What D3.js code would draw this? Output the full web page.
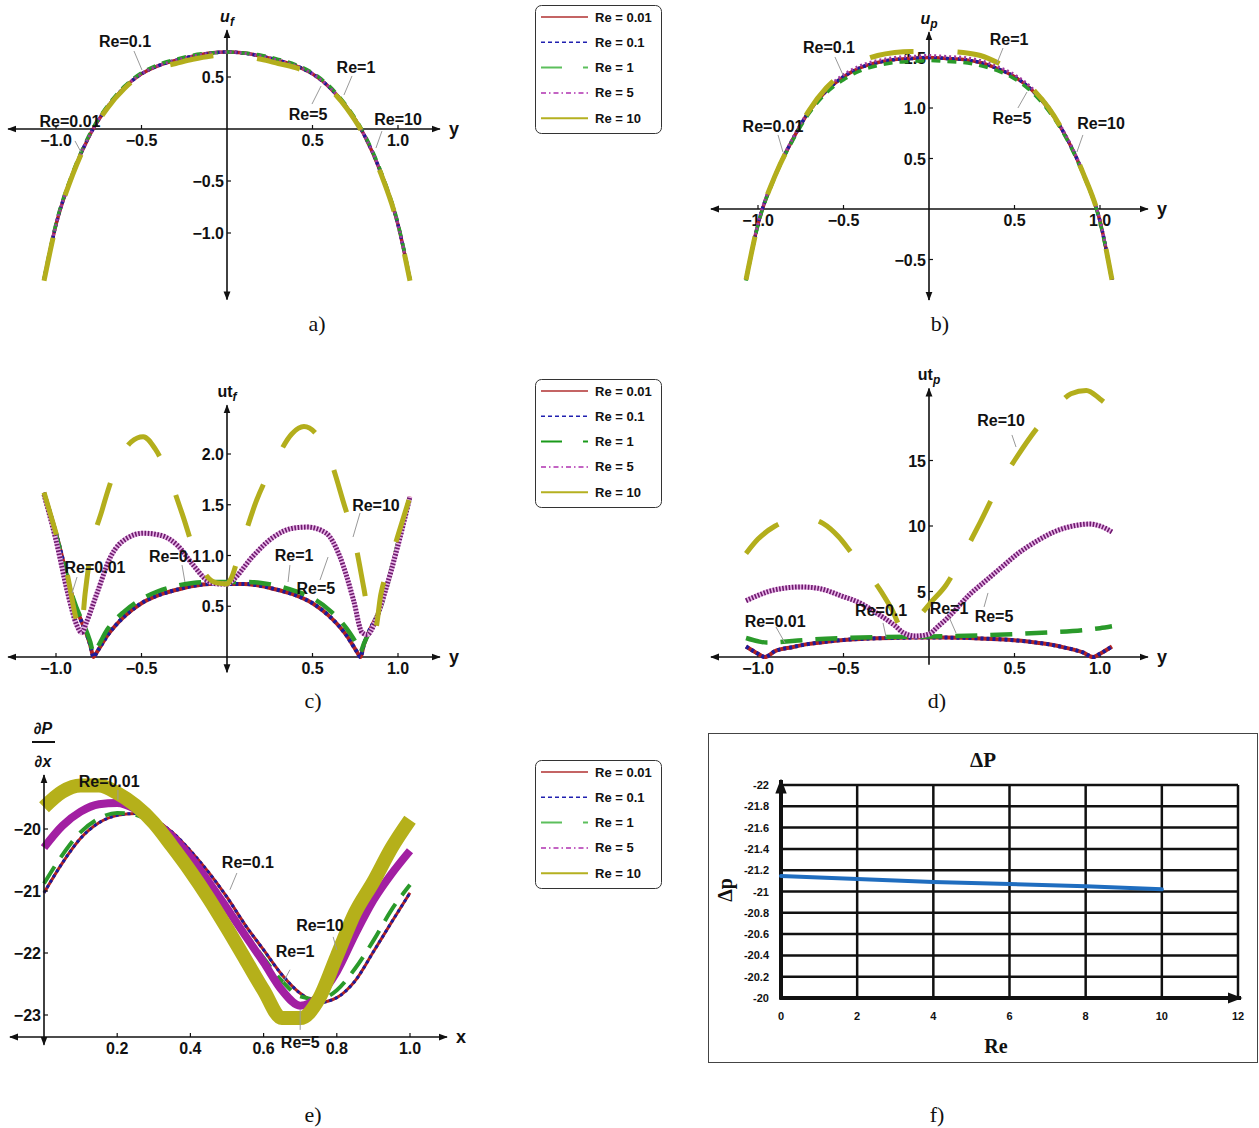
<!DOCTYPE html>
<html><head><meta charset="utf-8">
<script src="https://cdn.jsdelivr.net/npm/d3@7/dist/d3.min.js"></script>
<style>html,body{margin:0;padding:0;background:#fff;} svg{display:block;}</style>
</head><body>
<svg id="fig" width="1259" height="1128"></svg>
<script>
// ================= DATA =================
const seriesLabels = ["Re = 0.01","Re = 0.1","Re = 1","Re = 5","Re = 10"];

// panel a, b : common y grid
const yAB = [-1.07,-1.0,-0.9,-0.8,-0.7,-0.6,-0.5,-0.4,-0.3,-0.2,-0.1,0,0.1,0.2,0.3,0.4,0.5,0.6,0.7,0.8,0.9,1.0,1.07];
const uf_Re001 = [-1.45,-0.92,-0.42,-0.05,0.21,0.40,0.53,0.61,0.66,0.70,0.73,0.74,0.73,0.70,0.66,0.61,0.53,0.40,0.21,-0.05,-0.42,-0.92,-1.45];
const uf_Re01  = [-1.45,-0.92,-0.42,-0.05,0.21,0.40,0.53,0.61,0.66,0.70,0.73,0.74,0.73,0.70,0.66,0.61,0.53,0.40,0.21,-0.05,-0.42,-0.92,-1.45];
const uf_Re1   = [-1.44,-0.91,-0.41,-0.04,0.22,0.41,0.54,0.62,0.67,0.71,0.73,0.74,0.73,0.71,0.67,0.62,0.54,0.41,0.22,-0.04,-0.41,-0.91,-1.44];
const uf_Re5   = [-1.45,-0.92,-0.42,-0.05,0.21,0.40,0.53,0.61,0.66,0.70,0.73,0.74,0.73,0.70,0.66,0.61,0.53,0.40,0.21,-0.05,-0.42,-0.92,-1.45];
const uf_Re10  = [-1.46,-0.93,-0.43,-0.06,0.20,0.39,0.52,0.59,0.63,0.67,0.70,0.71,0.70,0.67,0.63,0.59,0.52,0.39,0.20,-0.06,-0.43,-0.93,-1.46];

const up_Re001 = [-0.70,-0.15,0.33,0.68,0.97,1.17,1.31,1.40,1.45,1.48,1.49,1.50,1.49,1.48,1.45,1.39,1.31,1.18,0.99,0.72,0.36,-0.12,-0.70];
const up_Re01  = [-0.70,-0.15,0.33,0.68,0.97,1.17,1.31,1.40,1.45,1.48,1.49,1.50,1.49,1.48,1.45,1.39,1.31,1.18,0.99,0.72,0.36,-0.12,-0.70];
const up_Re1   = [-0.71,-0.16,0.32,0.67,0.95,1.15,1.28,1.37,1.42,1.45,1.46,1.47,1.46,1.45,1.42,1.37,1.29,1.16,0.97,0.71,0.35,-0.13,-0.71];
const up_Re5   = [-0.69,-0.14,0.34,0.69,0.98,1.19,1.33,1.42,1.47,1.50,1.51,1.52,1.51,1.50,1.47,1.41,1.33,1.20,1.01,0.73,0.37,-0.11,-0.69];
const up_Re10  = [-0.70,-0.15,0.33,0.68,0.98,1.20,1.35,1.46,1.52,1.55,1.56,1.56,1.56,1.55,1.52,1.45,1.35,1.20,1.00,0.72,0.36,-0.12,-0.70];

// panel c
const yC = [-1.07,-1.0,-0.9,-0.8,-0.78,-0.76,-0.7,-0.6,-0.5,-0.4,-0.3,-0.2,-0.1,0,0.1,0.2,0.3,0.4,0.5,0.6,0.7,0.76,0.78,0.8,0.9,1.0,1.07];
const utf_Re001 = [1.62,1.22,0.57,0.12,0,0.05,0.21,0.40,0.53,0.61,0.66,0.70,0.72,0.72,0.72,0.70,0.66,0.61,0.53,0.40,0.21,0.05,0,0.12,0.50,1.12,1.58];
const utf_Re01  = [1.62,1.22,0.57,0.12,0,0.05,0.21,0.40,0.53,0.61,0.66,0.70,0.72,0.72,0.72,0.70,0.66,0.61,0.53,0.40,0.21,0.05,0,0.12,0.50,1.12,1.58];
const utf_Re1   = [1.60,1.20,0.58,0.15,0.04,0.09,0.27,0.45,0.57,0.65,0.70,0.73,0.74,0.74,0.74,0.73,0.70,0.65,0.58,0.46,0.28,0.12,0.05,0.13,0.50,1.12,1.58];
const yC5 = [-1.07,-1.0,-0.93,-0.88,-0.85,-0.82,-0.76,-0.68,-0.585,-0.49,-0.39,-0.29,-0.2,-0.12,-0.05,0,0.035,0.15,0.27,0.39,0.47,0.58,0.66,0.74,0.79,0.82,0.86,0.92,1.0,1.07];
const utf_Re5   = [1.60,1.15,0.62,0.32,0.24,0.35,0.63,0.99,1.17,1.22,1.20,1.10,0.91,0.76,0.72,0.72,0.76,0.99,1.18,1.27,1.28,1.22,0.99,0.56,0.24,0.22,0.32,0.62,1.10,1.58];
const yC10 = [-1.07,-1.0,-0.94,-0.88,-0.855,-0.83,-0.8,-0.73,-0.65,-0.56,-0.49,-0.42,-0.35,-0.26,-0.18,-0.12,-0.06,0,0.02,0.08,0.17,0.28,0.38,0.45,0.52,0.60,0.68,0.75,0.80,0.84,0.865,0.9,0.95,1.0,1.07];
const utf_Re10  = [1.62,1.22,0.86,0.36,0.22,0.62,1.00,1.45,1.86,2.12,2.17,2.05,1.82,1.40,0.99,0.80,0.73,0.72,0.76,1.07,1.53,1.92,2.20,2.27,2.20,1.96,1.53,1.12,0.68,0.32,0.26,0.62,0.92,1.20,1.58];

// panel d
const yD = [-1.07,-1.0,-0.96,-0.9,-0.8,-0.7,-0.6,-0.5,-0.4,-0.3,-0.2,-0.1,0,0.1,0.2,0.3,0.4,0.5,0.6,0.7,0.8,0.9,0.96,1.0,1.07];
const utp_Re001 = [0.80,0.25,0,0.45,0.75,1.0,1.17,1.30,1.38,1.43,1.46,1.48,1.48,1.48,1.46,1.42,1.36,1.28,1.15,0.97,0.70,0.35,0,0.25,0.80];
const utp_Re01  = [0.80,0.25,0,0.45,0.75,1.0,1.17,1.30,1.38,1.43,1.46,1.48,1.48,1.48,1.46,1.42,1.36,1.28,1.15,0.97,0.70,0.35,0,0.25,0.80];
const yD1 = [-1.07,-1.0,-0.95,-0.9,-0.8,-0.7,-0.5,-0.3,-0.1,0,0.1,0.3,0.5,0.7,0.9,1.0,1.07];
const utp_Re1   = [1.45,1.2,1.1,1.12,1.22,1.32,1.45,1.52,1.55,1.56,1.58,1.65,1.75,1.88,2.05,2.2,2.35];
const yD5 = [-1.07,-1.0,-0.94,-0.85,-0.75,-0.65,-0.51,-0.4,-0.3,-0.2,-0.15,-0.08,0,0.05,0.11,0.24,0.33,0.42,0.52,0.63,0.74,0.84,0.94,1.0,1.07];
const utp_Re5   = [4.3,4.7,5.0,5.25,5.35,5.25,4.65,4.1,3.3,2.4,1.85,1.6,1.75,2.3,3.0,4.8,5.8,6.8,7.9,8.85,9.6,10.0,10.15,10.0,9.55];
const yD10 = [-1.07,-1.0,-0.9,-0.8,-0.72,-0.62,-0.53,-0.45,-0.37,-0.29,-0.22,-0.14,-0.07,0.01,0.1,0.2,0.3,0.4,0.5,0.64,0.75,0.83,0.92,1.0,1.05];
const utp_Re10  = [7.9,9.0,10.0,10.5,10.6,10.2,9.2,7.9,6.6,5.2,3.7,1.8,2.9,4.15,5.5,7.8,10.3,12.9,15.0,17.6,19.2,20.1,20.35,19.7,19.16];

// panel e
const xE = [0,0.05,0.1,0.15,0.2,0.25,0.3,0.35,0.4,0.45,0.5,0.55,0.6,0.65,0.7,0.75,0.8,0.85,0.9,0.95,1.0];
const dpdx_Re001 = [-21.03,-20.55,-20.15,-19.9,-19.78,-19.75,-19.85,-20.05,-20.35,-20.7,-21.1,-21.55,-21.95,-22.35,-22.65,-22.8,-22.72,-22.45,-21.98,-21.5,-21.03];
const dpdx_Re01  = [-21.03,-20.55,-20.15,-19.9,-19.78,-19.75,-19.85,-20.05,-20.35,-20.7,-21.1,-21.55,-21.95,-22.35,-22.65,-22.8,-22.72,-22.45,-21.98,-21.5,-21.03];
const dpdx_Re1   = [-20.88,-20.42,-20.05,-19.83,-19.74,-19.77,-19.92,-20.15,-20.48,-20.85,-21.25,-21.68,-22.08,-22.45,-22.7,-22.75,-22.6,-22.25,-21.8,-21.3,-20.9];
const dpdx_Re5   = [-20.3,-19.95,-19.72,-19.6,-19.58,-19.68,-19.88,-20.12,-20.45,-20.85,-21.28,-21.72,-22.15,-22.6,-22.85,-22.7,-22.3,-21.7,-21.15,-20.72,-20.35];
const dpdx_Re10  = [-19.65,-19.4,-19.3,-19.3,-19.42,-19.62,-19.9,-20.28,-20.68,-21.12,-21.6,-22.1,-22.6,-23.05,-23.05,-22.75,-22.05,-21.35,-20.85,-20.3,-19.85];

// panel f
const reF = [0,2,4,6,8,10];
const deltaP = [-21.146,-21.118,-21.09,-21.07,-21.05,-21.02];
const fXTicks = [0,2,4,6,8,10,12];
const fYTicks = [-20,-20.2,-20.4,-20.6,-20.8,-21,-21.2,-21.4,-21.6,-21.8,-22];

// tick values
const yTicksSym = [-1,-0.5,0.5,1];

// ================= DRAWING =================
const SANS = "'Liberation Sans', Arial, sans-serif";
const SERIF = "'Liberation Serif', 'Times New Roman', serif";
const svg = d3.select("#fig");
const defs = svg.append("defs");
function mkArrow(id, size){
  defs.append("marker").attr("id",id).attr("viewBox","0 0 10 10").attr("refX",9).attr("refY",5)
    .attr("markerWidth",size).attr("markerHeight",size).attr("markerUnits","userSpaceOnUse")
    .attr("orient","auto-start-reverse")
    .append("path").attr("d","M0,1.2 L10,5 L0,8.8 z").attr("fill","#111");
}
mkArrow("arr",9); mkArrow("arrF",15);

const fmt1 = t => (t<0?"\u2212":"") + Math.abs(t).toFixed(1);
const fmt0 = t => (t<0?"\u2212":"") + Math.abs(t).toFixed(0);

function mathAxes(g, xs, ys, o){
  const x0 = xs(o.vx), y0 = ys(o.hy);
  g.append("line").attr("x1",xs(o.hx[0])).attr("x2",xs(o.hx[1])).attr("y1",y0).attr("y2",y0)
    .attr("stroke","#111").attr("stroke-width",1.6)
    .attr("marker-start","url(#arr)").attr("marker-end","url(#arr)");
  g.append("line").attr("x1",x0).attr("x2",x0).attr("y1",ys(o.vy[0])).attr("y2",ys(o.vy[1]))
    .attr("stroke","#111").attr("stroke-width",1.6)
    .attr("marker-start", o.noBottomArrow ? null : "url(#arr)").attr("marker-end","url(#arr)");
  o.xTicks.forEach(t=>{
    g.append("line").attr("x1",xs(t)).attr("x2",xs(t)).attr("y1",y0).attr("y2",y0-4).attr("stroke","#111").attr("stroke-width",1.2);
    g.append("text").attr("x",xs(t)).attr("y",y0+17).attr("text-anchor","middle")
      .attr("font-family",SANS).attr("font-weight","bold").attr("font-size",16).attr("fill","#111").text(o.xfmt(t));
  });
  o.yTicks.forEach(t=>{
    g.append("line").attr("x1",x0).attr("x2",x0+4).attr("y1",ys(t)).attr("y2",ys(t)).attr("stroke","#111").attr("stroke-width",1.2);
    g.append("text").attr("x",x0-3).attr("y",ys(t)+6).attr("text-anchor","end")
      .attr("font-family",SANS).attr("font-weight","bold").attr("font-size",16).attr("fill","#111").text(o.yfmt(t));
  });
  g.append("text").attr("x",xs(o.hx[1])+9).attr("y",y0+6).attr("font-family",SANS).attr("font-weight","bold")
    .attr("font-size",18).attr("fill","#111").text(o.xName);
  if (o.yMain){
    const t = g.append("text").attr("x",x0).attr("y",ys(o.vy[1])-8).attr("text-anchor","middle")
      .attr("font-family",SANS).attr("font-weight","bold").attr("font-size",16).attr("fill","#111");
    t.append("tspan").attr("font-style",o.yItalic?"italic":"normal").text(o.yMain);
    t.append("tspan").attr("font-style","italic").attr("font-size",12).attr("dy",4).text(o.ySub);
  }
}

function drawSeries(g, xs, ys, xArr, vArr, layers){
  const pts = xArr.map((x,i)=>[x, vArr[i]]);
  const line = d3.line().x(d=>xs(d[0])).y(d=>ys(d[1])).curve(d3.curveMonotoneX);
  layers.forEach(L=>{
    g.append("path").attr("d",line(pts)).attr("fill","none").attr("stroke",L.c)
      .attr("stroke-width",L.w).attr("stroke-dasharray",L.d||null)
      .attr("stroke-linejoin","round");
  });
}

function labels(g, xs, ys, list){
  list.forEach(l=>{
    if (l.lead) g.append("line").attr("x1",xs(l.lead[0])).attr("y1",ys(l.lead[1]))
      .attr("x2",xs(l.lead[2])).attr("y2",ys(l.lead[3])).attr("stroke","#999").attr("stroke-width",1);
    g.append("text").attr("x",xs(l.p[0])).attr("y",ys(l.p[1])+6).attr("text-anchor","middle")
      .attr("font-family",SANS).attr("font-weight","bold").attr("font-size",16).attr("fill","#111").text(l.t);
  });
}

const stAB = [
  [{c:"#b22222",w:3.5}],
  [{c:"#1c1c9c",w:3.5,d:"3,3"}],
  [{c:"#2a9a2a",w:3.5,d:"9,7"}],
  [{c:"#a03aa0",w:3,d:"2,3"}],
  [{c:"#b3ae1c",w:5,d:"44,44"}]
];
const stCD = [
  [{c:"#b22222",w:4}],
  [{c:"#1c1c9c",w:4,d:"3,3"}],
  [{c:"#2a9a2a",w:4.5,d:"22,13"}],
  [{c:"#e8b4e8",w:5},{c:"#6e1a6e",w:5,d:"1.6,1.6"}],
  [{c:"#b3ae1c",w:5,d:"44,42"}]
];
const stE = [
  [{c:"#b22222",w:3}],
  [{c:"#1c1c9c",w:3,d:"3,3"}],
  [{c:"#2a9a2a",w:4,d:"20,11"}],
  [{c:"#a21fa2",w:8}],
  [{c:"#b5b01a",w:14}]
];

// ---------- panel a ----------
{
  const g = svg.append("g");
  const xs = d3.scaleLinear().domain([-1,1]).range([56,398]);
  const ys = d3.scaleLinear().domain([0,1]).range([129,25]);
  mathAxes(g, xs, ys, {vx:0,hy:0,hx:[-1.28,1.245],vy:[-1.64,0.95],xTicks:yTicksSym,yTicks:[0.5,-0.5,-1],
    xfmt:fmt1,yfmt:fmt1,xName:"y",yMain:"u",ySub:"f",yItalic:true});
  [uf_Re001,uf_Re01,uf_Re1,uf_Re5,uf_Re10].forEach((v,i)=>drawSeries(g,xs,ys,yAB,v,stAB[i]));
  labels(g, xs, ys, [
    {t:"Re=0.1",p:[-0.596,0.846],lead:[-0.544,0.75,-0.497,0.567]},
    {t:"Re=1",p:[0.754,0.596],lead:[0.731,0.51,0.684,0.327]},
    {t:"Re=5",p:[0.474,0.144],lead:[0.497,0.24,0.55,0.413]},
    {t:"Re=10",p:[1.0,0.096],lead:[0.906,-0.02,0.871,-0.183]},
    {t:"Re=0.01",p:[-0.918,0.077],lead:[-0.889,-0.115,-0.854,-0.221]}
  ]);
}
// ---------- panel b ----------
{
  const g = svg.append("g");
  const xs = d3.scaleLinear().domain([-1,1]).range([758,1100]);
  const ys = d3.scaleLinear().domain([0,1]).range([209,108]);
  mathAxes(g, xs, ys, {vx:0,hy:0,hx:[-1.275,1.28],vy:[-0.90,1.75],xTicks:yTicksSym,yTicks:[0.5,1,1.5,-0.5],
    xfmt:fmt1,yfmt:fmt1,xName:"y",yMain:"u",ySub:"p",yItalic:true});
  [up_Re001,up_Re01,up_Re1,up_Re5,up_Re10].forEach((v,i)=>drawSeries(g,xs,ys,yAB,v,stAB[i]));
  labels(g, xs, ys, [
    {t:"Re=0.1",p:[-0.585,1.604],lead:[-0.55,1.505,-0.503,1.327]},
    {t:"Re=1",p:[0.468,1.683],lead:[0.433,1.594,0.398,1.446]},
    {t:"Re=0.01",p:[-0.912,0.822],lead:[-0.883,0.733,-0.854,0.564]},
    {t:"Re=5",p:[0.485,0.901],lead:[0.52,1.0,0.573,1.158]},
    {t:"Re=10",p:[1.006,0.851],lead:[0.9,0.733,0.865,0.564]}
  ]);
}
// ---------- panel c ----------
{
  const g = svg.append("g");
  const xs = d3.scaleLinear().domain([-1,1]).range([56,398]);
  const ys = d3.scaleLinear().domain([0,1]).range([657,555.5]);
  mathAxes(g, xs, ys, {vx:0,hy:0,hx:[-1.28,1.245],vy:[-0.15,2.48],xTicks:yTicksSym,yTicks:[0.5,1,1.5,2],
    xfmt:fmt1,yfmt:fmt1,xName:"y",yMain:"ut",ySub:"f",yItalic:false});
  drawSeries(g,xs,ys,yC,utf_Re001,stCD[0]);
  drawSeries(g,xs,ys,yC,utf_Re01,stCD[1]);
  drawSeries(g,xs,ys,yC,utf_Re1,stCD[2]);
  drawSeries(g,xs,ys,yC5,utf_Re5,stCD[3]);
  drawSeries(g,xs,ys,yC10,utf_Re10,stCD[4]);
  labels(g, xs, ys, [
    {t:"Re=0.01",p:[-0.772,0.887],lead:[-0.877,0.788,-0.906,0.63]},
    {t:"Re=0.1",p:[-0.304,0.995],lead:[-0.263,0.906,-0.246,0.739]},
    {t:"Re=1",p:[0.392,1.005],lead:[0.368,0.906,0.357,0.739]},
    {t:"Re=5",p:[0.52,0.68],lead:[0.544,0.759,0.591,0.985]},
    {t:"Re=10",p:[0.871,1.498],lead:[0.778,1.419,0.737,1.182]}
  ]);
}
// ---------- panel d ----------
{
  const g = svg.append("g");
  const xs = d3.scaleLinear().domain([-1,1]).range([758,1100]);
  const ys = d3.scaleLinear().domain([0,10]).range([657,526]);
  mathAxes(g, xs, ys, {vx:0,hy:0,hx:[-1.275,1.28],vy:[-0.6,20.5],xTicks:yTicksSym,yTicks:[5,10,15],
    xfmt:fmt1,yfmt:fmt0,xName:"y",yMain:"ut",ySub:"p",yItalic:false,noBottomArrow:true});
  drawSeries(g,xs,ys,yD,utp_Re001,stCD[0]);
  drawSeries(g,xs,ys,yD,utp_Re01,stCD[1]);
  drawSeries(g,xs,ys,yD1,utp_Re1,stCD[2]);
  drawSeries(g,xs,ys,yD5,utp_Re5,stCD[3]);
  drawSeries(g,xs,ys,yD10,utp_Re10,stCD[4]);
  labels(g, xs, ys, [
    {t:"Re=10",p:[0.421,18.09],lead:[0.485,16.95,0.509,16.03]},
    {t:"Re=0.01",p:[-0.9,2.75],lead:[-0.895,2.29,-0.842,1.07]},
    {t:"Re=0.1",p:[-0.28,3.59],lead:[-0.269,2.6,-0.251,1.53]},
    {t:"Re=1",p:[0.117,3.74],lead:[0.117,3.05,0.158,1.83]},
    {t:"Re=5",p:[0.38,3.13],lead:[0.322,3.82,0.345,4.89]}
  ]);
}
// ---------- panel e ----------
{
  const g = svg.append("g");
  const xs = d3.scaleLinear().domain([0,1]).range([44,410]);
  const ys = d3.scaleLinear().domain([-20,-23]).range([829,1015]);
  [dpdx_Re001,dpdx_Re01,dpdx_Re1,dpdx_Re5,dpdx_Re10].forEach((v,i)=>drawSeries(g,xs,ys,xE,v,stE[i]));
  labels(g, xs, ys, [
    {t:"Re=0.01",p:[0.178,-19.226],lead:[0.202,-19.37,0.202,-19.53]},
    {t:"Re=0.1",p:[0.557,-20.53],lead:[0.527,-20.71,0.508,-20.98]},
    {t:"Re=10",p:[0.754,-21.55],lead:[0.79,-21.74,0.80,-21.95]},
    {t:"Re=1",p:[0.686,-21.97],lead:[0.672,-22.27,0.653,-22.48]},
    {t:"Re=5",p:[0.70,-23.435],lead:[0.70,-23.24,0.70,-22.92]}
  ]);
  mathAxes(g, xs, ys, {vx:0,hy:-23.355,hx:[-0.093,1.101],vy:[-23.48,-19.13],xTicks:[0.2,0.4,0.6,0.8,1.0],yTicks:[-20,-21,-22,-23],
    xfmt:t=>t.toFixed(1),yfmt:fmt0,xName:"x",yMain:null});
  // dP/dx label
  const lt = (txt,y)=>g.append("text").attr("x",43).attr("y",y).attr("text-anchor","middle")
      .attr("font-family",SANS).attr("font-weight","bold").attr("font-style","italic").attr("font-size",16).attr("fill","#111").text(txt);
  lt("\u2202P",734);
  g.append("line").attr("x1",32).attr("x2",55).attr("y1",742).attr("y2",742).attr("stroke","#111").attr("stroke-width",2);
  lt("\u2202x",767);
}
// ---------- panel f ----------
{
  const g = svg.append("g");
  g.append("rect").attr("x",708.5).attr("y",733.5).attr("width",549).attr("height",329)
    .attr("fill","#fff").attr("stroke","#444").attr("stroke-width",1);
  const xs = d3.scaleLinear().domain([0,12]).range([781,1238]);
  const ys = d3.scaleLinear().domain([-20,-22]).range([998,785]);
  fXTicks.filter(t=>t>0).forEach(t=>g.append("line").attr("x1",xs(t)).attr("x2",xs(t)).attr("y1",ys(-20)).attr("y2",ys(-22))
    .attr("stroke","#111").attr("stroke-width",2.5));
  fYTicks.filter(t=>t!==-20).forEach(t=>g.append("line").attr("x1",xs(0)).attr("x2",xs(12)).attr("y1",ys(t)).attr("y2",ys(t))
    .attr("stroke","#111").attr("stroke-width",2.5));
  g.append("line").attr("x1",xs(0)).attr("x2",xs(0)).attr("y1",ys(-20)+1.5).attr("y2",ys(-22)-5)
    .attr("stroke","#111").attr("stroke-width",4).attr("marker-end","url(#arrF)");
  g.append("line").attr("x1",xs(0)-1.5).attr("x2",xs(12)+3).attr("y1",ys(-20)).attr("y2",ys(-20))
    .attr("stroke","#111").attr("stroke-width",4).attr("marker-end","url(#arrF)");
  fYTicks.forEach(t=>g.append("text").attr("x",769).attr("y",ys(t)+4).attr("text-anchor","end")
    .attr("font-family",SANS).attr("font-weight","bold").attr("font-size",11).attr("fill","#111")
    .text(String(t)));
  fXTicks.forEach(t=>g.append("text").attr("x",xs(t)).attr("y",1020).attr("text-anchor","middle")
    .attr("font-family",SANS).attr("font-weight","bold").attr("font-size",11).attr("fill","#111").text(String(t)));
  const pts = reF.map((r,i)=>[r,deltaP[i]]);
  g.append("path").attr("d",d3.line().x(d=>xs(d[0])).y(d=>ys(d[1]))(pts)).attr("fill","none")
    .attr("stroke","#1f6dbf").attr("stroke-width",4).attr("stroke-linecap","round");
  g.append("text").attr("x",983).attr("y",767).attr("text-anchor","middle").attr("font-family",SERIF)
    .attr("font-weight","bold").attr("font-size",21).attr("fill","#111").text("\u0394P");
  g.append("text").attr("x",996).attr("y",1053).attr("text-anchor","middle").attr("font-family",SERIF)
    .attr("font-weight","bold").attr("font-size",20).attr("fill","#111").text("Re");
  g.append("text").attr("transform","translate(732,890) rotate(-90)").attr("text-anchor","middle").attr("font-family",SERIF)
    .attr("font-weight","bold").attr("font-size",20).attr("fill","#111").text("\u0394p");
}

// ---------- legends ----------
const legendStyles = [
  {c:"#b03030",w:1.5},
  {c:"#2020b0",w:1.5,d:"4,3"},
  {c:"#5cbf5c",w:2,d:"21,21"},
  {c:"#b030b0",w:1.5,d:"5,3,1.5,3"},
  {c:"#b5b020",w:2}
];
function legend(x, y, greenColor){
  const g = svg.append("g");
  g.append("rect").attr("x",x+0.5).attr("y",y+0.5).attr("width",126).attr("height",128).attr("rx",6)
    .attr("fill","#fff").attr("stroke","#333").attr("stroke-width",1);
  seriesLabels.forEach((s,i)=>{
    const yy = y + 12 + i*25.3;
    const st = legendStyles[i];
    g.append("line").attr("x1",x+6).attr("x2",x+53).attr("y1",yy).attr("y2",yy)
      .attr("stroke", i===2 && greenColor ? greenColor : st.c).attr("stroke-width",st.w).attr("stroke-dasharray",st.d||null);
    g.append("text").attr("x",x+60).attr("y",yy+4.5).attr("font-family",SANS).attr("font-weight","bold")
      .attr("font-size",13).attr("fill","#111").text(s);
  });
}
legend(535,5,null);
legend(535,379,"#1a9a1a");
legend(535,760,null);

// ---------- panel letters ----------
[["a)",317,331],["b)",940,331],["c)",313,708],["d)",937,708],["e)",313,1122],["f)",937,1122]].forEach(p=>{
  svg.append("text").attr("x",p[1]).attr("y",p[2]).attr("text-anchor","middle").attr("font-family",SERIF)
    .attr("font-size",22).attr("fill","#111").text(p[0]);
});
</script></body></html>
